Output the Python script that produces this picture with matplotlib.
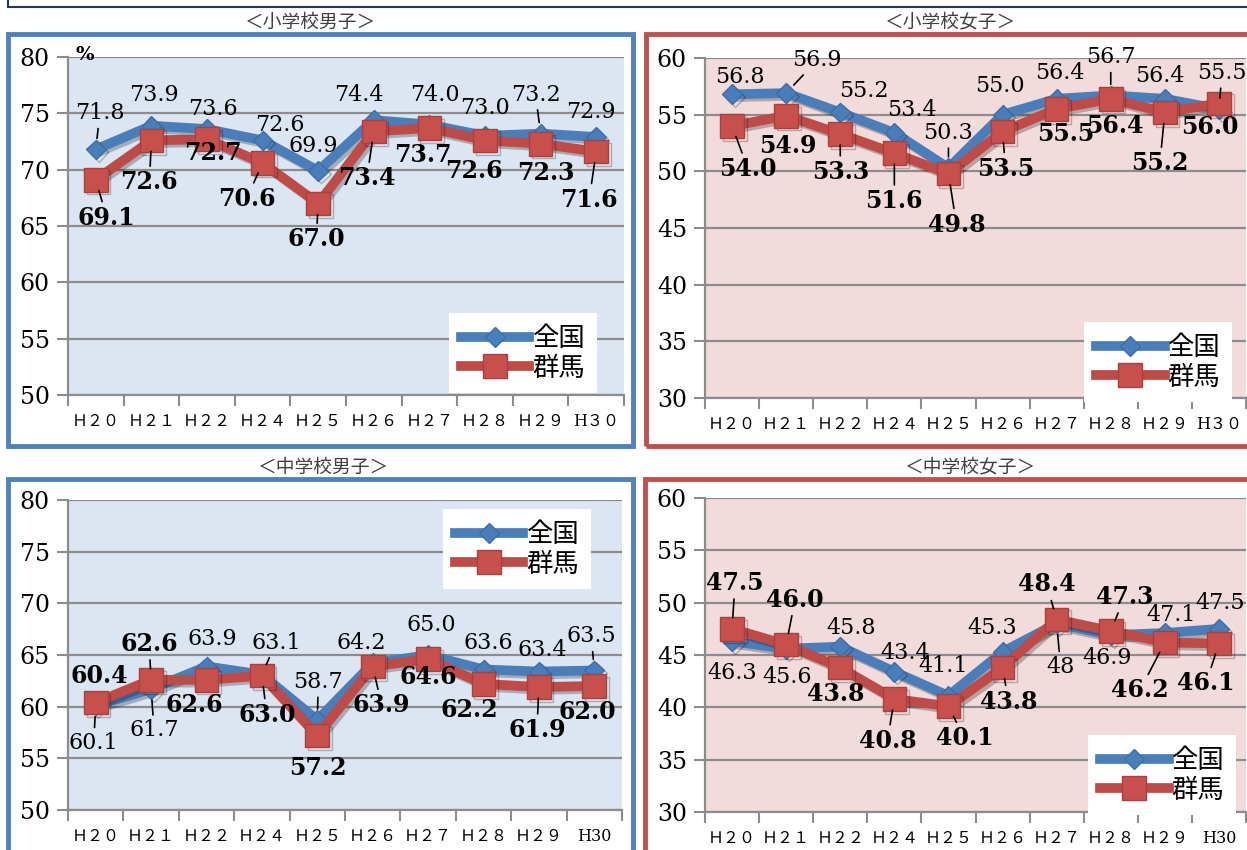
import numpy as np
import matplotlib.pyplot as plt
import matplotlib.patheffects as pe
from matplotlib.patches import Rectangle
from matplotlib.lines import Line2D

plt.rcParams['font.family'] = ['DejaVu Serif', 'Noto Sans CJK JP']

# ============================================================
# DATA
# ============================================================

years = ['H20', 'H21', 'H22', 'H24', 'H25', 'H26', 'H27', 'H28', 'H29', 'H30']
xlabels_top = ['Ｈ２０', 'Ｈ２１', 'Ｈ２２', 'Ｈ２４', 'Ｈ２５', 'Ｈ２６', 'Ｈ２７', 'Ｈ２８', 'Ｈ２９', 'H３０']
xlabels_bottom = ['Ｈ２０', 'Ｈ２１', 'Ｈ２２', 'Ｈ２４', 'Ｈ２５', 'Ｈ２６', 'Ｈ２７', 'Ｈ２８', 'Ｈ２９', 'H30']

series_names = ['全国', '群馬']

# 小学校男子
es_boys_zenkoku = [71.8, 73.9, 73.6, 72.6, 69.9, 74.4, 74.0, 73.0, 73.2, 72.9]
es_boys_gunma = [69.1, 72.6, 72.7, 70.6, 67.0, 73.4, 73.7, 72.6, 72.3, 71.6]

# 小学校女子
es_girls_zenkoku = [56.8, 56.9, 55.2, 53.4, 50.3, 55.0, 56.4, 56.7, 56.4, 55.5]
es_girls_gunma = [54.0, 54.9, 53.3, 51.6, 49.8, 53.5, 55.5, 56.4, 55.2, 56.0]

# 中学校男子
jh_boys_zenkoku = [60.1, 61.7, 63.9, 63.1, 58.7, 64.2, 65.0, 63.6, 63.4, 63.5]
jh_boys_gunma = [60.4, 62.6, 62.6, 63.0, 57.2, 63.9, 64.6, 62.2, 61.9, 62.0]

# 中学校女子
jh_girls_zenkoku = [46.3, 45.6, 45.8, 43.4, 41.1, 45.3, 48, 46.9, 47.1, 47.5]
jh_girls_gunma = [47.5, 46.0, 43.8, 40.8, 40.1, 43.8, 48.4, 47.3, 46.2, 46.1]

# ============================================================
# LAYOUT (pixels, image coordinates)
# ============================================================

W, H = 1247, 850

BLUE = '#4a7ebb'
RED = '#be4b48'
BOX_BLUE = '#4f81bd'
BOX_RED = '#c0504d'
GRID = '#8c8c8c'

# label offsets (dx, dy) in pixels, dy positive = downwards
off_es_boys_z = [(4, -36), (3, -31), (6, -20), (17, -15), (-5, -25), (-15, -25), (6, -30), (0, -28), (-5, -39), (-5, -25)]
off_es_boys_g = [(11, 38), (-2, 42), (6, 14), (-16, 36), (-2, 36), (-7, 47), (-7, 27), (-11, 31), (5, 29), (-7, 48)]
off_es_girls_z = [(8, -17), (31, -33), (24, -21), (18, -23), (0, -35), (-3, -29), (3, -26), (0, -38), (-5, -23), (3, -36)]
off_es_girls_g = [(16, 43), (2, 30), (0, 38), (0, 48), (8, 51), (3, 37), (9, 25), (4, 27), (-5, 51), (-9, 24)]
off_jh_boys_z = [(-2, 37), (3, 41), (6, -27), (14, -32), (1, -38), (-11, -20), (3, -30), (5, -26), (3, -22), (-3, -34)]
off_jh_boys_g = [(4, -27), (-2, -36), (-12, 25), (5, 39), (1, 32), (9, 39), (0, 18), (-14, 26), (-2, 43), (-7, 26)]
off_jh_girls_z = [(0, 32), (1, 28), (11, -19), (11, -19), (-5, -30), (-10, -24), (4, 43), (-4, 23), (6, -18), (1, -26)]
off_jh_girls_g = [(3, -46), (9, -45), (-5, 26), (-7, 42), (16, 32), (6, 34), (-10, -35), (14, -34), (-25, 48), (-13, 40)]

panels = [
    dict(title='＜小学校男子＞', title_xy=(310, 22), zen=es_boys_zenkoku, gun=es_boys_gunma,
         off_z=off_es_boys_z, off_g=off_es_boys_g, ylim=(50, 80),
         axes=(68, 57, 624, 395), box=(8, 34, 633, 446), box_color=BOX_BLUE, face='#dce6f2',
         legend_xy=(449, 313), legend_loc='upper left', xlabels=xlabels_top, percent=True),
    dict(title='＜小学校女子＞', title_xy=(950, 22), zen=es_girls_zenkoku, gun=es_girls_gunma,
         off_z=off_es_girls_z, off_g=off_es_girls_g, ylim=(30, 60),
         axes=(705, 58, 1246, 398), box=(646, 34, 1265, 446), box_color=BOX_RED, face='#f2dcdb',
         legend_xy=(1232, 322), legend_loc='upper right', xlabels=xlabels_top, percent=False),
    dict(title='＜中学校男子＞', title_xy=(323, 467), zen=jh_boys_zenkoku, gun=jh_boys_gunma,
         off_z=off_jh_boys_z, off_g=off_jh_boys_g, ylim=(50, 80),
         axes=(68, 500, 622, 810), box=(8, 479, 633, 870), box_color=BOX_BLUE, face='#dce6f2',
         legend_xy=(443, 509), legend_loc='upper left', xlabels=xlabels_bottom, percent=False),
    dict(title='＜中学校女子＞', title_xy=(970, 467), zen=jh_girls_zenkoku, gun=jh_girls_gunma,
         off_z=off_jh_girls_z, off_g=off_jh_girls_g, ylim=(30, 60),
         axes=(705, 498, 1246, 812), box=(645, 479, 1265, 870), box_color=BOX_RED, face='#f2dcdb',
         legend_xy=(1236, 735), legend_loc='upper right', xlabels=xlabels_bottom, percent=False),
]


def fig_rect(x0, y0, x1, y1):
    return [x0 / W, 1 - y1 / H, (x1 - x0) / W, (y1 - y0) / H]


fig = plt.figure(figsize=(W / 100, H / 100), dpi=100)
fig.patch.set_facecolor('white')

# top frame of the page
fig.add_artist(Line2D([8 / W, 1], [1 - 7 / H, 1 - 7 / H], transform=fig.transFigure, color='#1f3864', lw=1.5))
fig.add_artist(Line2D([8 / W, 8 / W], [1, 1 - 7 / H], transform=fig.transFigure, color='#1f3864', lw=1.5))

shadow = [pe.SimpleLineShadow(offset=(2, -2), shadow_color='black', alpha=0.25), pe.Normal()]


def draw_labels(ax, vals, offs, bold):
    for i, (v, (dx, dy)) in enumerate(zip(vals, offs)):
        far = np.hypot(dx, dy) > 33
        ax.annotate(str(v), (i, v), xytext=(dx, -dy), textcoords='offset pixels',
                    ha='center', va='center',
                    fontsize=17 if bold else 16,
                    fontweight='bold' if bold else 'normal',
                    color='black', zorder=6,
                    arrowprops=dict(arrowstyle='-', lw=1.2, color='black',
                                    shrinkA=1, shrinkB=8) if far else None)


for p in panels:
    # panel border
    bx0, by0, bx1, by1 = p['box']
    fig.add_artist(Rectangle((bx0 / W, 1 - by1 / H), (bx1 - bx0) / W, (by1 - by0) / H,
                             transform=fig.transFigure, fill=False,
                             edgecolor=p['box_color'], lw=3.5))
    fig.text(p['title_xy'][0] / W, 1 - p['title_xy'][1] / H, p['title'],
             ha='center', va='center', fontsize=13.5, color='#404040',
             family=['Noto Sans CJK JP'])

    ax = fig.add_axes(fig_rect(*p['axes']))
    ax.set_facecolor(p['face'])
    x = np.arange(len(years))

    ax.plot(x, p['zen'], color=BLUE, lw=7, marker='D', ms=10,
            mec='#3a6eab', mfc=BLUE, zorder=3, path_effects=shadow, clip_on=False)
    ax.plot(x, p['gun'], color=RED, lw=7, marker='s', ms=17,
            mec='#a8403d', mfc='#c8504c', zorder=4, path_effects=shadow, clip_on=False)

    draw_labels(ax, p['zen'], p['off_z'], bold=False)
    draw_labels(ax, p['gun'], p['off_g'], bold=True)

    lo, hi = p['ylim']
    ax.set_ylim(lo, hi)
    ax.set_xlim(-0.5, len(years) - 0.5)
    ax.set_yticks(np.arange(lo, hi + 1, 5))
    ax.yaxis.grid(True, color=GRID, lw=1.6)
    ax.set_axisbelow(True)
    ax.tick_params(axis='y', length=8, width=1.5, color=GRID, labelsize=17, pad=5)

    ax.set_xticks(x)
    ax.set_xticklabels(p['xlabels'], fontsize=11.5)
    ax.set_xticks(np.arange(-0.5, len(years), 1), minor=True)
    ax.tick_params(axis='x', which='major', length=0, pad=13)
    ax.tick_params(axis='x', which='minor', length=8, width=1.5, color=GRID)

    for s in ['top', 'right']:
        ax.spines[s].set_visible(False)
    for s in ['left', 'bottom']:
        ax.spines[s].set_color(GRID)
        ax.spines[s].set_linewidth(1.6)

    if p['percent']:
        ax.text(85 / W, 1 - 55 / H, '%', transform=fig.transFigure, fontsize=14,
                fontweight='bold', ha='center', va='center')

    handles = [
        Line2D([], [], color=BLUE, lw=7, marker='D', ms=10, mec='#3a6eab'),
        Line2D([], [], color=RED, lw=7, marker='s', ms=17, mec='#a8403d', mfc='#c8504c'),
    ]
    lx, ly = p['legend_xy']
    leg = ax.legend(handles, series_names, loc=p['legend_loc'],
                    bbox_to_anchor=(lx / W, 1 - ly / H), bbox_transform=fig.transFigure,
                    prop={'family': ['Noto Sans CJK JP'], 'size': 19},
                    frameon=True, fancybox=False, framealpha=1, edgecolor='none',
                    facecolor='white', handlelength=2.6, handletextpad=0.1,
                    labelspacing=0.1, borderpad=0.45, borderaxespad=0)
    leg.set_zorder(10)

fig.savefig('out.png', dpi=100)
